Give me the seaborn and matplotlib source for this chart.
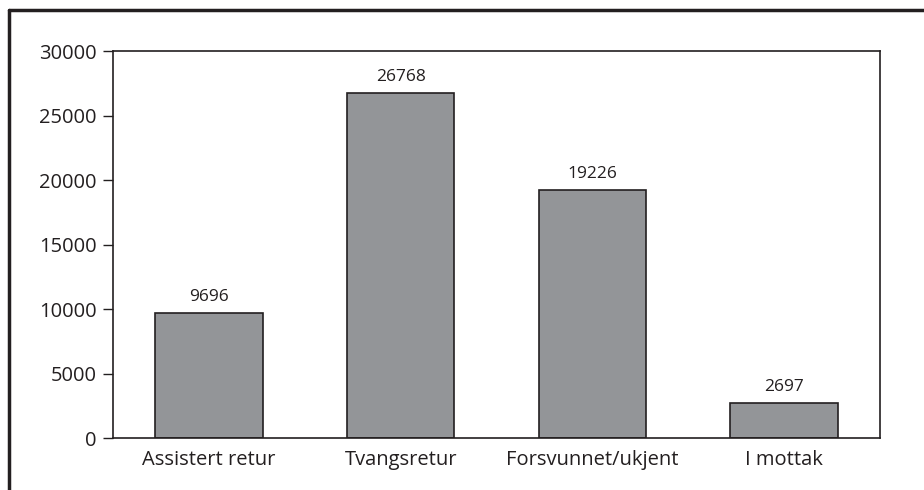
import matplotlib
matplotlib.use("Agg")
import matplotlib.pyplot as plt
import seaborn as sns
import pandas as pd
from matplotlib.lines import Line2D

categories = ["Assistert retur", "Tvangsretur", "Forsvunnet/ukjent", "I mottak"]
values = [9696, 26768, 19226, 2697]
yticks = [0, 5000, 10000, 15000, 20000, 25000, 30000]

sns.set_style("white")
plt.rcParams["font.family"] = ["Open Sans", "DejaVu Sans"]

df = pd.DataFrame({"kategori": categories, "antall": values})

fig = plt.figure(figsize=(9.24, 4.9), dpi=100)
ax = fig.add_axes([0.1223, 0.1061, 0.8301, 0.7898])

sns.barplot(data=df, x="kategori", y="antall", color="#939598", saturation=1,
            width=0.56, edgecolor="#231f20", linewidth=1.2, ax=ax)

for i, v in enumerate(values):
    ax.text(i, v + 600, str(v), ha="center", va="bottom", fontsize=12.5, color="#231f20")

ax.set_xlim(-0.5, 3.5)
ax.set_ylim(0, 30000)
ax.set_yticks(yticks)
ax.set_yticklabels([str(t) for t in yticks])
ax.set_xlabel("")
ax.set_ylabel("")
ax.tick_params(axis="y", which="both", left=True, length=7, width=1, color="#231f20",
               labelsize=14.5, labelcolor="#231f20", pad=5)
ax.tick_params(axis="x", bottom=False, labelsize=14.5, labelcolor="#231f20", pad=5)
for s in ax.spines.values():
    s.set_visible(True)
    s.set_color("#231f20")
    s.set_linewidth(1.2)

# outer frame (cut at right and bottom)
fig.add_artist(Line2D([0.0092, 1.01], [0.979, 0.979], transform=fig.transFigure,
                      color="#231f20", linewidth=2.5))
fig.add_artist(Line2D([0.0092, 0.0092], [0.979, -0.01], transform=fig.transFigure,
                      color="#231f20", linewidth=2.5))

fig.savefig("out.png", dpi=100)
